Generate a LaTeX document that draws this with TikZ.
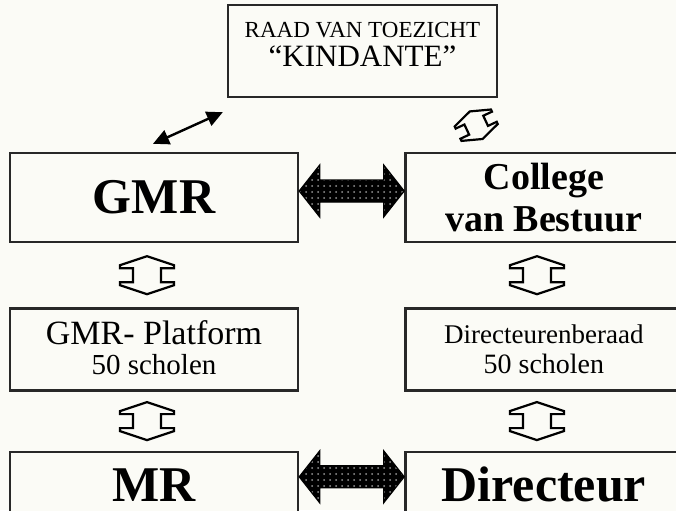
\documentclass[tikz,border=0pt]{standalone}
\usepackage{fontspec}
\setmainfont{Liberation Serif}
\usetikzlibrary{positioning,arrows.meta,calc,patterns}
\definecolor{kdInk}{RGB}{40,40,40}
\definecolor{kdPaper}{RGB}{251,251,246}
\definecolor{kdDots}{RGB}{150,150,150}
\tikzset{
    box/.style={rectangle, draw=kdInk, line width=1.2pt, fill=kdPaper, align=center, inner sep=0pt, text=black},
    leftbox/.style={box, minimum width=144pt},
    rightbox/.style={box, minimum width=138.5pt},
    bigbold/.style={font=\fontsize{25}{28}\selectfont\bfseries},
    midbold/.style={font=\fontsize{19}{21}\selectfont\bfseries},
    fatarrow/.style={draw=black, line width=0.6pt, line join=miter, preaction={fill=black}, pattern=dots, pattern color=kdDots},
    hollow/.style={draw=black, line width=1.1pt, fill=kdPaper, line join=miter},
    thinarrow/.style={{Triangle[length=8pt,width=7.5pt]}-{Triangle[length=8pt,width=7.5pt]}, line width=1.2pt, draw=black}
}

\begin{document}
\begin{tikzpicture}[x=0.5pt, y=-0.5pt]
  \useasboundingbox (0,0) rectangle (676,510);
  \clip (0,0) rectangle (676,510);
  \fill[kdPaper] (0,0) rectangle (676,510);

  % Toezicht
  \node[box, minimum width=134.5pt, minimum height=46pt] (raad) at (362.5,51)
    {{\fontsize{11.5}{13}\selectfont RAAD VAN TOEZICHT}\\[2.5pt]{\fontsize{15.5}{17}\selectfont “KINDANTE”\rule[-7pt]{0pt}{0pt}}};

  % Bovenste rij
  \node[leftbox, bigbold, minimum height=44.5pt] (gmr) at (154,197.5) {GMR};
  \node[rightbox, midbold, minimum height=44.5pt, right=52.5pt of gmr] (college) {College\\van Bestuur};

  % Middelste rij
  \node[leftbox, minimum height=41pt, below=32pt of gmr] (platform)
    {{\fontsize{17}{19}\selectfont GMR- Platform}\\[3pt]{\fontsize{14.5}{16}\selectfont 50 scholen\rule[-1.5pt]{0pt}{0pt}}};
  \node[rightbox, minimum height=41pt, right=52.5pt of platform] (beraad)
    {{\fontsize{13.5}{15}\selectfont Directeurenberaad}\\[3pt]{\fontsize{14}{16}\selectfont 50 scholen}};

  % Onderste rij
  \node[leftbox, bigbold, minimum height=33pt, below=29.5pt of platform] (mr) {MR};
  \node[rightbox, bigbold, minimum height=33pt, right=52.5pt of mr] (directeur) {Directeur};

  % Pijlen
  \draw[thinarrow] ($(gmr.north)+(-1,-8)$) -- ($(raad.south west)+(-4,14)$);
  \draw[hollow, shift={($(raad.south east)+(-22,27)$)}, rotate=25, scale=0.8]
    (0,-19) -- (-25,-10) -- (-25,-7) -- (-13,-7) -- (-13,7) -- (-25,7) -- (-25,10) -- (0,19)
    -- (25,10) -- (25,7) -- (13,7) -- (13,-7) -- (25,-7) -- (25,-10) -- cycle;
  \draw[fatarrow, shift={($(gmr.east)!0.5!(college.west)+(0,-6.5)$)}]
    (-52.5,0) -- (-32,-26) -- (-32,-11) -- (32,-11) -- (32,-26) -- (52.5,0)
    -- (32,26) -- (32,11) -- (-32,11) -- (-32,26) -- cycle;
  \draw[fatarrow, shift={($(mr.east)!0.5!(directeur.west)+(0,-8)$)}]
    (-52.5,0) -- (-32,-26) -- (-32,-11) -- (32,-11) -- (32,-26) -- (52.5,0)
    -- (32,26) -- (32,11) -- (-32,11) -- (-32,26) -- cycle;
  \foreach \a/\b in {gmr/platform, college/beraad, platform/mr, beraad/directeur}
    \draw[hollow, shift={($(\a.south)!0.5!(\b.north)+(-7,0)$)}]
      (0,-19) -- (-27,-10) -- (-27,-7) -- (-14,-7) -- (-14,7) -- (-27,7) -- (-27,10) -- (0,19)
      -- (27,10) -- (27,7) -- (14,7) -- (14,-7) -- (27,-7) -- (27,-10) -- cycle;
\end{tikzpicture}
\end{document}
